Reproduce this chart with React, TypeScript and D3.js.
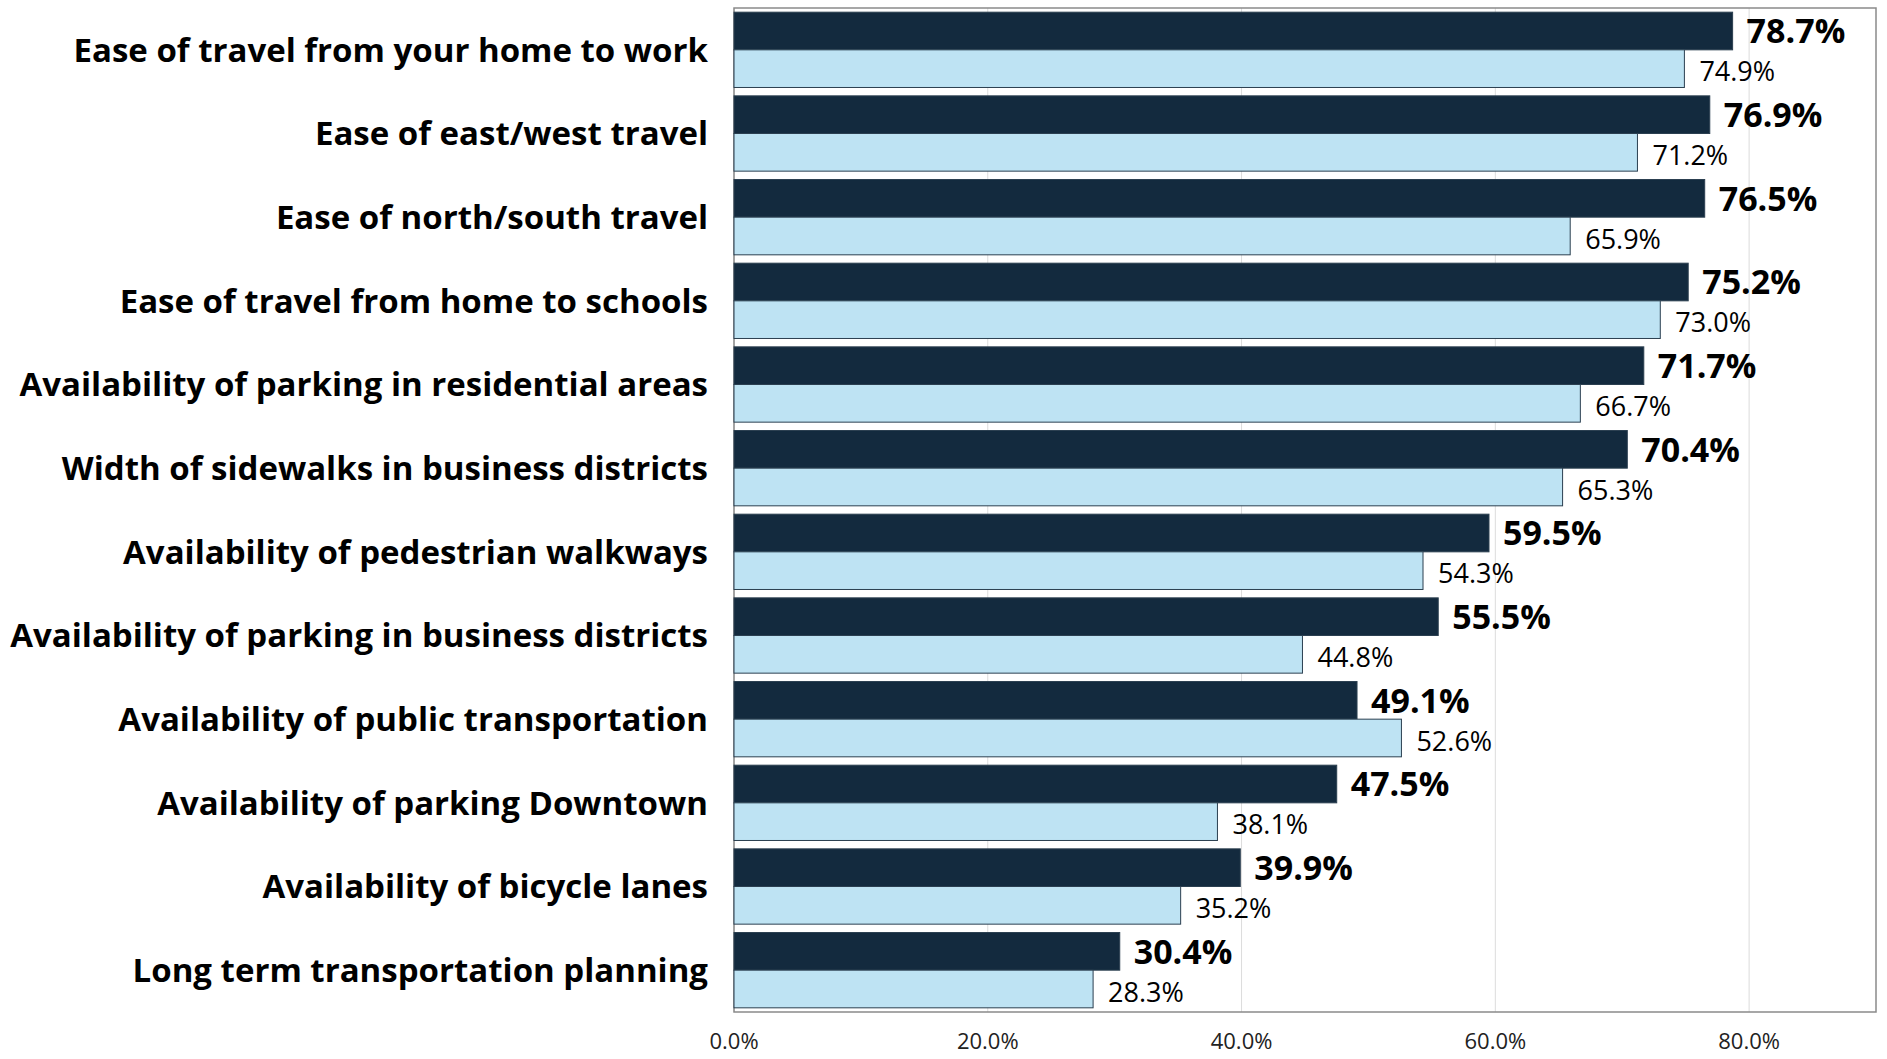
import React from "react";
import * as d3 from "d3";

const categories = [
  "Ease of travel from your home to work",
  "Ease of east/west travel",
  "Ease of north/south travel",
  "Ease of travel from home to schools",
  "Availability of parking in residential areas",
  "Width of sidewalks in business districts",
  "Availability of pedestrian walkways",
  "Availability of parking in business districts",
  "Availability of public transportation",
  "Availability of parking Downtown",
  "Availability of bicycle lanes",
  "Long term transportation planning",
];
const currentValues = [78.7, 76.9, 76.5, 75.2, 71.7, 70.4, 59.5, 55.5, 49.1, 47.5, 39.9, 30.4];
const priorValues = [74.9, 71.2, 65.9, 73.0, 66.7, 65.3, 54.3, 44.8, 52.6, 38.1, 35.2, 28.3];
const xTicks = [0, 20, 40, 60, 80];

const W = 1887;
const H = 1059;
const M = { left: 734, right: 11, top: 8, bottom: 47 };
const DARK = "#132a3e";
const LIGHT = "#bee3f3";
const FONT = "'Open Sans', Lato, sans-serif";

export default function App() {
  const x = d3.scaleLinear().domain([0, 90]).range([M.left, W - M.right]);
  const y = d3
    .scaleBand<string>()
    .domain(categories)
    .range([M.top, H - M.bottom])
    .paddingInner(0.1)
    .paddingOuter(0.05);
  const sub = d3.scaleBand<string>().domain(["cur", "prior"]).range([0, y.bandwidth()]);

  return (
    <div style={{ position: "fixed", left: 0, top: 0 }}>
      <svg width={W} height={H} style={{ display: "block", background: "#fff" }} fontFamily={FONT}>
        {xTicks.map((t) => (
          <line key={t} x1={x(t)} x2={x(t)} y1={M.top} y2={H - M.bottom} stroke="#dcdcdc" strokeWidth={1} />
        ))}
        <rect
          x={M.left}
          y={M.top}
          width={W - M.right - M.left}
          height={H - M.bottom - M.top}
          fill="none"
          stroke="#8a8a8a"
          strokeWidth={1.5}
        />
        {categories.map((c, i) => {
          const y0 = y(c)!;
          const yc = y0 + sub("cur")!;
          const yp = y0 + sub("prior")!;
          const bh = sub.bandwidth();
          return (
            <g key={c}>
              <rect x={x(0)} y={yc} width={x(currentValues[i]) - x(0)} height={bh} fill={DARK} stroke="#2b3f50" strokeWidth={1} />
              <rect x={x(0)} y={yp} width={x(priorValues[i]) - x(0)} height={bh} fill={LIGHT} stroke="#2b3f50" strokeWidth={1} />
              <text
                x={x(currentValues[i]) + 14}
                y={yc + bh / 2}
                dy="0.36em"
                fontSize={34}
                fontWeight="bold"
                fill="#000"
              >
                {currentValues[i].toFixed(1)}%
              </text>
              <text x={x(priorValues[i]) + 15} y={yp + bh / 2 + 3} dy="0.36em" fontSize={27} fill="#000">
                {priorValues[i].toFixed(1)}%
              </text>
              <text
                x={708}
                y={y0 + y.bandwidth() / 2}
                dy="0.36em"
                textAnchor="end"
                fontSize={33}
                fontWeight="bold"
                fill="#000"
              >
                {c}
              </text>
            </g>
          );
        })}
        {xTicks.map((t) => (
          <text key={t} x={x(t)} y={1041} dy="0.36em" textAnchor="middle" fontSize={22} fill="#222">
            {t.toFixed(1)}%
          </text>
        ))}
      </svg>
    </div>
  );
}
